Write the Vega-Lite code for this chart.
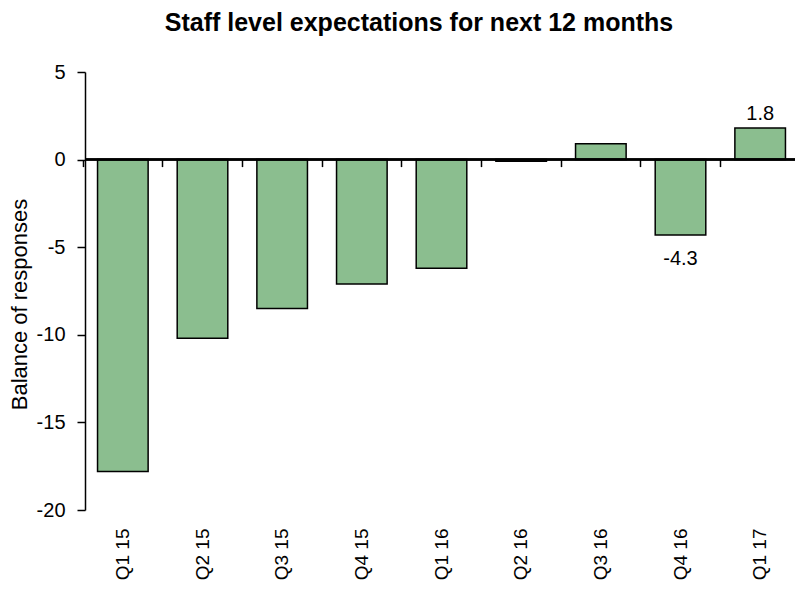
{
  "$schema": "https://vega.github.io/schema/vega-lite/v6.json",
  "autosize": "none",
  "width": 710,
  "height": 438,
  "padding": {"left": 85, "top": 72, "right": 0, "bottom": 81},
  "background": "white",
  "title": {
    "text": "Staff level expectations for next 12 months",
    "font": "Liberation Sans",
    "fontSize": 25,
    "fontWeight": "bold",
    "color": "black",
    "anchor": "middle",
    "baseline": "alphabetic",
    "offset": 6,
    "dx": -21
  },
  "config": {
    "view": {"stroke": null},
    "font": "Liberation Sans",
    "axis": {"labelFont": "Liberation Sans", "titleFont": "Liberation Sans", "labelColor": "black", "titleColor": "black", "domainColor": "black", "tickColor": "black", "grid": false}
  },
  "data": {
    "values": [
      {"q": "Q1 15", "value": -17.8, "label": null},
      {"q": "Q2 15", "value": -10.2, "label": null},
      {"q": "Q3 15", "value": -8.5, "label": null},
      {"q": "Q4 15", "value": -7.1, "label": null},
      {"q": "Q1 16", "value": -6.2, "label": null},
      {"q": "Q2 16", "value": -0.1, "label": null},
      {"q": "Q3 16", "value": 0.9, "label": null},
      {"q": "Q4 16", "value": -4.3, "label": "-4.3"},
      {"q": "Q1 17", "value": 1.8, "label": "1.8"}
    ]
  },
  "resolve": {"axis": {"x": "independent"}},
  "layer": [
    {
      "mark": {"type": "bar", "fill": "#8BBE8F", "stroke": "black", "strokeWidth": 1.5},
      "encoding": {
        "x": {
          "field": "q", "type": "nominal", "sort": null,
          "scale": {"paddingInner": 0.365, "paddingOuter": 0.1825, "range": [-2, 715]},
          "axis": {"title": null, "orient": "bottom", "domain": false, "ticks": false, "labelAngle": -90, "labelAlign": "right", "labelBaseline": "middle", "labelFontSize": 19, "labelPadding": 18}
        },
        "y": {
          "field": "value", "type": "quantitative",
          "scale": {"domain": [-20, 5], "nice": false},
          "axis": {"title": "Balance of responses", "titleFontSize": 22, "titleFontWeight": "normal", "titlePadding": 5, "titleY": 232, "values": [-20, -15, -10, -5, 0, 5], "labelExpr": "'' + datum.value", "labelFontSize": 20, "tickSize": 8, "labelPadding": 12, "domainWidth": 1.5, "tickWidth": 1.5}
        }
      }
    },
    {
      "mark": {"type": "rule", "stroke": "black", "strokeWidth": 1.5},
      "encoding": {"y": {"datum": 0, "type": "quantitative"}}
    },
    {
      "transform": [{"filter": "datum.value < 0 && datum.label != null"}],
      "mark": {"type": "text", "baseline": "alphabetic", "dy": 30, "fontSize": 20, "color": "black"},
      "encoding": {
        "x": {"field": "q", "type": "nominal", "sort": null, "axis": {"title": null, "orient": "bottom", "offset": -350.4, "domain": false, "labels": false, "ticks": true, "bandPosition": -0.287, "tickSize": 7, "tickWidth": 1.5}},
        "y": {"field": "value", "type": "quantitative"},
        "text": {"field": "label"}
      }
    },
    {
      "transform": [{"filter": "datum.value > 0 && datum.label != null"}],
      "mark": {"type": "text", "baseline": "alphabetic", "dy": -8, "fontSize": 20, "color": "black"},
      "encoding": {
        "x": {"field": "q", "type": "nominal", "sort": null, "axis": null},
        "y": {"field": "value", "type": "quantitative"},
        "text": {"field": "label"}
      }
    }
  ]
}
